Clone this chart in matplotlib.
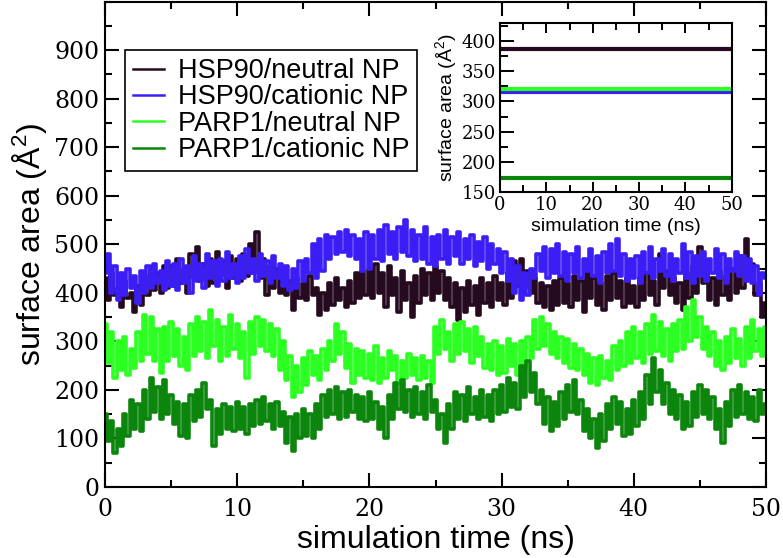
import numpy as np
import matplotlib
matplotlib.use("Agg")
import matplotlib.pyplot as plt
from matplotlib.ticker import MultipleLocator

plt.rcParams["font.family"] = "Liberation Sans"
plt.rcParams["mathtext.fontset"] = "custom"
plt.rcParams["mathtext.rm"] = "Liberation Sans"

# sampling grid, 0.25 ns steps
time_ns = np.arange(201) * 0.25

# values (surface area, A^2), 20 values per 5 ns
hsp90_neutral = [
    430, 385, 440, 395, 410, 370, 425, 390, 400, 360, 415, 375, 435, 395, 450, 405, 440, 400, 455, 410,
    455, 415, 470, 420, 450, 400, 480, 430, 495, 425, 460, 415, 470, 420, 485, 435, 465, 410, 475, 430,
    470, 425, 480, 435, 500, 440, 525, 430, 470, 395, 455, 410, 450, 400, 440, 395, 425, 365, 430, 390,
    420, 385, 435, 395, 410, 355, 400, 365, 420, 375, 430, 385, 410, 370, 425, 380, 440, 390, 445, 395,
    450, 390, 460, 400, 440, 370, 455, 395, 430, 360, 445, 385, 420, 350, 435, 380, 450, 395, 440, 385,
    455, 400, 445, 385, 430, 370, 420, 345, 410, 360, 425, 375, 415, 355, 430, 380, 420, 370, 435, 385,
    420, 375, 440, 390, 465, 415, 470, 410, 445, 400, 430, 380, 420, 370, 415, 365, 425, 375, 430, 380,
    420, 370, 435, 385, 425, 360, 440, 390, 430, 375, 420, 365, 435, 385, 440, 390, 425, 370, 430, 380,
    415, 370, 430, 385, 440, 395, 425, 375, 480, 410, 445, 395, 430, 380, 420, 365, 440, 390, 455, 400,
    495, 420, 440, 385, 430, 375, 445, 395, 435, 385, 450, 400, 475, 410, 510, 430, 460, 395, 420, 350,
    380,
]
hsp90_cationic = [
    440, 480, 400, 455, 385, 440, 395, 450, 410, 435, 380, 445, 400, 455, 410, 460, 420, 445, 405, 465,
    415, 460, 405, 470, 420, 455, 400, 475, 425, 460, 410, 480, 430, 465, 415, 470, 425, 485, 430, 460,
    420, 475, 430, 490, 440, 470, 425, 480, 435, 465, 420, 475, 430, 460, 415, 455, 405, 450, 410, 465,
    425, 470, 440, 500, 430, 510, 445, 520, 470, 515, 480, 525, 485, 530, 475, 520, 470, 510, 445, 525,
    450, 520, 470, 530, 465, 540, 480, 525, 470, 535, 485, 550, 475, 530, 465, 520, 470, 535, 460, 515,
    455, 520, 470, 530, 460, 515, 475, 525, 460, 510, 470, 520, 455, 505, 465, 515, 450, 500, 460, 490,
    440, 485, 425, 470, 400, 455, 385, 440, 395, 450, 430, 480, 445, 495, 430, 490, 440, 500, 435, 485,
    425, 480, 440, 495, 430, 470, 445, 490, 435, 475, 420, 485, 440, 500, 445, 510, 435, 480, 425, 470,
    430, 475, 420, 485, 440, 495, 430, 470, 445, 490, 435, 480, 425, 470, 440, 500, 430, 485, 420, 475,
    435, 485, 425, 470, 440, 490, 430, 480, 420, 470, 445, 485, 435, 475, 425, 470, 420, 455, 395, 440,
    430,
]
parp1_neutral = [
    335, 255, 320, 225, 300, 240, 310, 230, 285, 245, 320, 260, 355, 275, 350, 260, 325, 235, 330, 260,
    340, 270, 325, 250, 310, 240, 335, 270, 350, 280, 340, 265, 365, 290, 345, 260, 330, 270, 355, 285,
    335, 265, 320, 225, 340, 275, 350, 290, 345, 280, 335, 270, 325, 240, 300, 220, 270, 185, 250, 195,
    265, 210, 280, 230, 270, 220, 285, 240, 300, 260, 335, 275, 320, 245, 295, 215, 285, 230, 280, 225,
    275, 220, 290, 215, 265, 225, 280, 240, 270, 215, 260, 225, 275, 230, 265, 220, 270, 225, 260, 215,
    330, 275, 345, 285, 320, 260, 335, 275, 340, 280, 325, 255, 330, 270, 310, 245, 295, 240, 300, 230,
    290, 235, 305, 250, 295, 230, 300, 245, 310, 265, 345, 285, 350, 290, 335, 275, 320, 265, 310, 255,
    305, 245, 295, 240, 285, 230, 275, 215, 265, 210, 270, 225, 260, 220, 290, 240, 300, 250, 320, 255,
    330, 265, 320, 255, 335, 275, 355, 280, 340, 270, 325, 260, 335, 280, 345, 285, 370, 300, 385, 310,
    350, 285, 330, 270, 320, 250, 300, 240, 310, 255, 325, 265, 305, 250, 330, 265, 345, 280, 325, 270,
    330,
]
parp1_cationic = [
    150, 95, 135, 70, 120, 85, 150, 105, 180, 120, 170, 115, 200, 140, 225, 155, 205, 140, 220, 150,
    190, 130, 175, 105, 170, 100, 190, 135, 200, 145, 215, 160, 180, 85, 160, 110, 170, 120, 165, 115,
    175, 120, 165, 110, 170, 125, 180, 130, 185, 135, 170, 120, 175, 125, 155, 90, 145, 75, 150, 100,
    160, 105, 150, 100, 170, 120, 190, 145, 200, 150, 205, 140, 195, 145, 200, 155, 190, 140, 185, 135,
    195, 140, 175, 120, 165, 100, 190, 140, 215, 160, 220, 155, 200, 145, 205, 150, 195, 140, 210, 155,
    180, 120, 150, 90, 170, 120, 195, 140, 190, 135, 205, 150, 185, 140, 200, 145, 190, 135, 200, 150,
    210, 155, 225, 165, 215, 160, 250, 185, 260, 195, 235, 170, 200, 130, 185, 115, 175, 125, 195, 140,
    210, 155, 220, 150, 180, 115, 160, 100, 140, 80, 150, 95, 170, 120, 185, 130, 175, 105, 160, 110,
    180, 125, 195, 140, 230, 170, 265, 195, 240, 170, 215, 150, 200, 140, 190, 120, 175, 125, 195, 145,
    210, 150, 200, 140, 185, 120, 160, 90, 175, 125, 200, 145, 210, 150, 195, 140, 185, 135, 200, 150,
    170,
]

# inset: average surface area per system
inset_values = [388, 315, 321, 172]

labels = ["HSP90/neutral NP", "HSP90/cationic NP", "PARP1/neutral NP", "PARP1/cationic NP"]
colors = ["#250a20", "#3b1ef5", "#2cff22", "#0b850b"]
series = [hsp90_neutral, hsp90_cationic, parp1_neutral, parp1_cationic]

fig = plt.figure(figsize=(7.83, 5.58), dpi=100)
ax = fig.add_axes([0.1341, 0.1272, 0.8442, 0.8701])

for vals, lab, col in zip(series, labels, colors):
    ax.plot(time_ns, vals, color=col, lw=2.6, drawstyle="steps-mid", label=lab)

ax.set_xlim(0, 50)
ax.set_ylim(0, 1000)
ax.set_xticks(range(0, 51, 10))
ax.set_yticks(range(0, 901, 100))
ax.xaxis.set_minor_locator(MultipleLocator(5))
ax.yaxis.set_minor_locator(MultipleLocator(50))
ax.tick_params(which="both", direction="in", top=True, right=True, width=1.5)
ax.tick_params(which="major", length=10)
ax.tick_params(which="minor", length=5)
ax.tick_params(axis="x", pad=8)
ax.tick_params(axis="y", pad=4)
plt.setp(ax.get_xticklabels() + ax.get_yticklabels(), fontfamily="DejaVu Serif", fontsize=17)
for sp in ax.spines.values():
    sp.set_linewidth(1.5)

ax.set_xlabel("simulation time (ns)", fontsize=23, labelpad=3)
ax.set_ylabel("surface area (Å$^2$)", fontsize=23, labelpad=4)

leg = ax.legend(loc="upper left", bbox_to_anchor=(0.030, 0.900), borderaxespad=0,
                fontsize=19.5, handlelength=1.15, handletextpad=0.5, labelspacing=0.01,
                borderpad=0.3, fancybox=False, framealpha=1, edgecolor="black")
leg.get_frame().set_linewidth(1.2)
for h in leg.get_lines():
    h.set_linewidth(1.8)
    h.set_drawstyle("default")

# inset
axi = fig.add_axes([0.6386, 0.6565, 0.2959, 0.3017])
for v, col in zip(inset_values, colors):
    axi.axhline(v, color=col, lw=3)
axi.set_xlim(0, 50)
axi.set_ylim(150, 430)
axi.set_xticks(range(0, 51, 10))
axi.set_yticks(range(150, 401, 50))
axi.xaxis.set_minor_locator(MultipleLocator(5))
axi.yaxis.set_minor_locator(MultipleLocator(25))
axi.tick_params(which="both", direction="in", top=True, right=False, width=1.4, pad=3)
axi.tick_params(axis="y", which="major", length=10)
axi.tick_params(axis="y", which="minor", length=6)
axi.tick_params(axis="x", which="major", length=7)
axi.tick_params(axis="x", which="minor", length=5)
plt.setp(axi.get_xticklabels() + axi.get_yticklabels(), fontfamily="DejaVu Serif", fontsize=13)
for sp in axi.spines.values():
    sp.set_linewidth(1.5)
axi.set_xlabel("simulation time (ns)", fontsize=14, labelpad=3)
axi.set_ylabel("surface area (Å$^2$)", fontsize=14, labelpad=1)

fig.savefig("out.png", dpi=100)
